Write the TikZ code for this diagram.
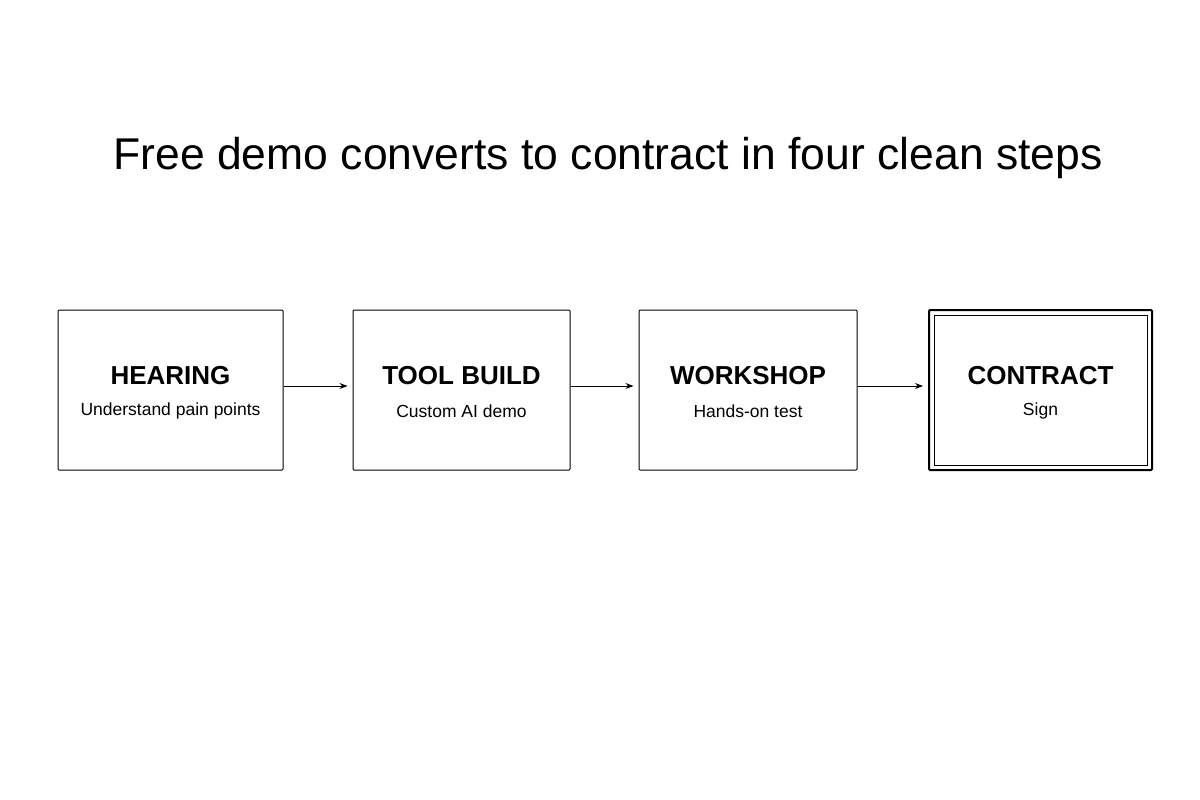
\documentclass[tikz,border=0pt]{standalone}
\usepackage{fontspec}
\setmainfont{Liberation Sans}
\usetikzlibrary{arrows.meta}
\begin{document}
\begin{tikzpicture}[x=1pt,y=-1pt,
  box/.style={draw,line width=1pt,rounded corners=1pt,minimum width=#1,minimum height=160pt,inner sep=0pt},
  conn/.style={-{Stealth[length=8pt,width=6pt]},line width=1pt,shorten >=5pt},
  head/.style={font=\fontsize{26}{30}\selectfont\bfseries},
  sub/.style={font=\fontsize{17.5}{21}\selectfont}]
\useasboundingbox (0,0) rectangle (1200,800);
\node (title) at (608,158) {\fontsize{44.5}{50}\selectfont Free demo converts to contract in four clean steps};
\node[box=225pt] (h) at (170.5,390) {};
\node[box=217pt] (t) at (461.5,390) {};
\node[box=218pt] (w) at (748,390) {};
\node[box=223pt,line width=2pt] (c) at (1040.5,390) {};
\draw[line width=0.8pt] (934,315) rectangle (1147,465);
\foreach \n/\a/\b in {h/HEARING/Understand pain points, t/TOOL BUILD/Custom AI demo, w/WORKSHOP/Hands-on test, c/CONTRACT/Sign}{
  \node[head] at ([yshift=14pt]\n.center) {\a};
  \node[sub] at ([yshift=-21pt]\n.center) {\b};
}
\draw[conn] ([yshift=4pt]h.east) -- ([yshift=4pt]t.west);
\draw[conn] ([yshift=4pt]t.east) -- ([yshift=4pt]w.west);
\draw[conn] ([yshift=4pt]w.east) -- ([yshift=4pt]c.west);
\end{tikzpicture}
\end{document}
